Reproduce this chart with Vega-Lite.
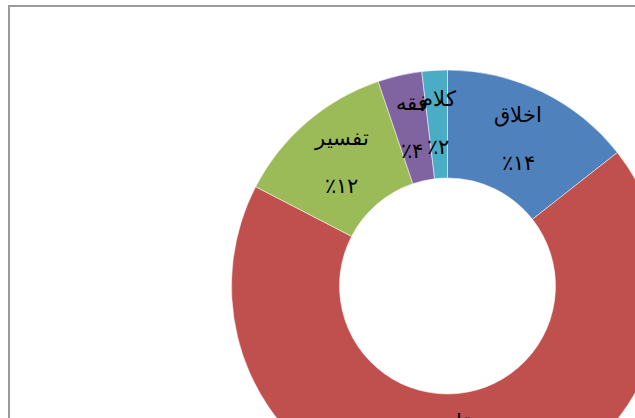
{
  "$schema": "https://vega.github.io/schema/vega-lite/v6.json",
  "width": 877,
  "height": 560,
  "autosize": {"type": "none"},
  "padding": {"left": 9, "top": 6, "right": 0, "bottom": 0},
  "background": "white",
  "view": {"stroke": "#9a9a9a", "strokeWidth": 2, "fill": "white"},
  "data": {"values": [
    {"name": "اخلاق", "pct": "٪۱۴", "value": 14.4, "ord": 1},
    {"name": "عقاید", "pct": "٪۶۸", "value": 68.2, "ord": 2},
    {"name": "تفسیر", "pct": "٪۱۲", "value": 12.2, "ord": 3},
    {"name": "فقه", "pct": "٪۴", "value": 3.3, "ord": 4},
    {"name": "کلام", "pct": "٪۲", "value": 1.9, "ord": 5}
  ]},
  "encoding": {
    "theta": {"field": "value", "type": "quantitative", "stack": true},
    "order": {"field": "ord", "type": "quantitative"}
  },
  "layer": [
    {
      "mark": {"type": "arc", "outerRadius": 216, "innerRadius": 108, "stroke": "white", "strokeWidth": 0.5},
      "encoding": {
        "color": {"field": "name", "type": "nominal", "legend": null,
          "scale": {"domain": ["اخلاق", "عقاید", "تفسیر", "فقه", "کلام"],
                    "range": ["#4F81BD", "#C0504D", "#9BBB59", "#8064A2", "#4BACC6"]}}
      }
    },
    {
      "mark": {"type": "text", "radius": 162, "dy": -24, "fontSize": 21, "font": "Times New Roman, serif", "color": "black"},
      "encoding": {"text": {"field": "name"}}
    },
    {
      "mark": {"type": "text", "radius": 162, "dy": 24, "fontSize": 21, "font": "Times New Roman, serif", "color": "black"},
      "encoding": {"text": {"field": "pct"}}
    }
  ]
}
